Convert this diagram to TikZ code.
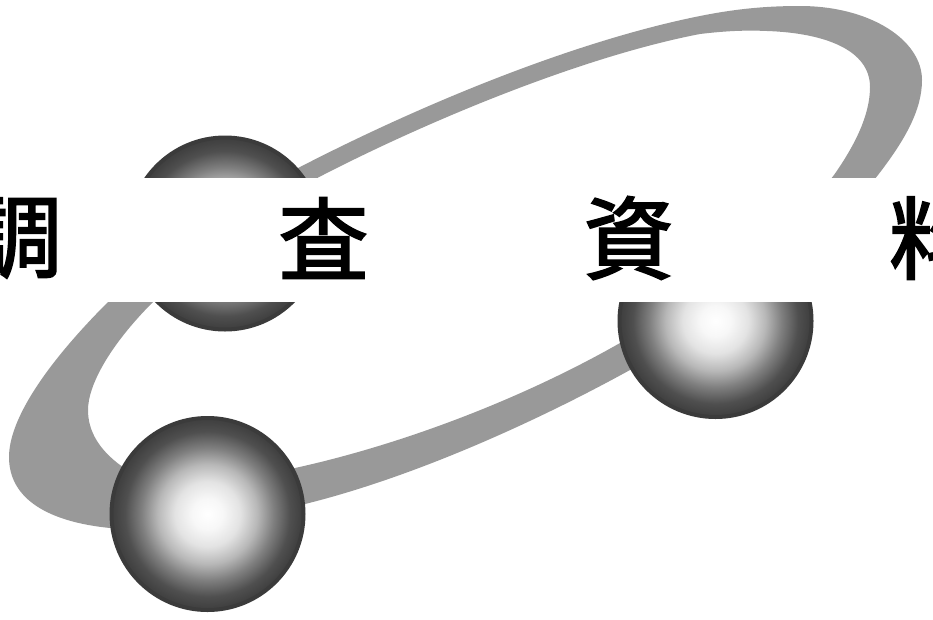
\documentclass[tikz,border=0pt]{standalone}
\usepackage{fontspec}
\newfontfamily\cjk[FakeBold=2.2]{Noto Sans CJK JP}
\pgfdeclareradialshading{ballshade}{\pgfpoint{0bp}{0bp}}{%
  color(0bp)=(white);
  color(4bp)=(black!3);
  color(8.5bp)=(black!11);
  color(13bp)=(black!28);
  color(17.2bp)=(black!50);
  color(21.5bp)=(black!69);
  color(24bp)=(black!74);
  color(25bp)=(black!75);
  color(50bp)=(black!75)}
\tikzset{
  ring/.style={fill=black!40,draw=none,even odd rule},
  ball/.style={draw=black!77,line width=4pt,shading=ballshade},
  glyph/.style={font=\cjk\fontsize{90}{90}\selectfont,text=black,inner sep=0pt,anchor=center},
  band/.style={fill=white,draw=none}
}
\begin{document}
\begin{tikzpicture}[x=1pt,y=-1pt]
\clip (0,0) rectangle (933,619);
\fill[white] (0,0) rectangle (933,619);
% ring
\path[ring]
  (110,528) .. controls (50,522) and (9,500) .. (9,457)
  .. controls (9,420) and (45,365) .. (108,302)
  .. controls (170,240) and (235,200) .. (300,167)
  .. controls (430,100) and (580,40) .. (700,16)
  .. controls (735,9) and (765,6) .. (800,6)
  .. controls (870,6) and (922,40) .. (922,80)
  .. controls (922,110) and (905,140) .. (878,175)
  .. controls (810,260) and (720,325) .. (630,370)
  .. controls (530,425) and (410,478) .. (305,504)
  .. controls (240,520) and (170,528) .. (110,528) -- cycle
  (120,465) .. controls (100,450) and (88,432) .. (88,410)
  .. controls (88,385) and (110,345) .. (153,302)
  .. controls (205,250) and (265,205) .. (323,175)
  .. controls (440,115) and (590,55) .. (700,34)
  .. controls (725,31) and (745,30) .. (767,31)
  .. controls (825,33) and (870,50) .. (870,87)
  .. controls (870,115) and (855,145) .. (834,175)
  .. controls (775,250) and (700,300) .. (620,343)
  .. controls (520,400) and (400,445) .. (295,468)
  .. controls (230,480) and (160,490) .. (120,465) -- cycle;
% balls
\node[circle,ball,minimum size=192pt,inner sep=0pt] (ballA) at (225,233.5) {};
\node[circle,ball,minimum size=192pt,inner sep=0pt] (ballB) at (715.5,321) {};
\node[circle,ball,minimum size=192pt,inner sep=0pt] (ballC) at (207.5,514) {};
% band
\node[band,minimum width=933pt,minimum height=124pt,inner sep=0pt,outer sep=0pt] (bandN) at (466.5,240) {};
% text
\node[glyph] (t1) at (17,238) {調};
\node[glyph] (t2) at (323.5,238) {査};
\node[glyph] (t3) at (628.5,238) {資};
\node[glyph] (t4) at (934,238) {料};
\end{tikzpicture}
\end{document}
